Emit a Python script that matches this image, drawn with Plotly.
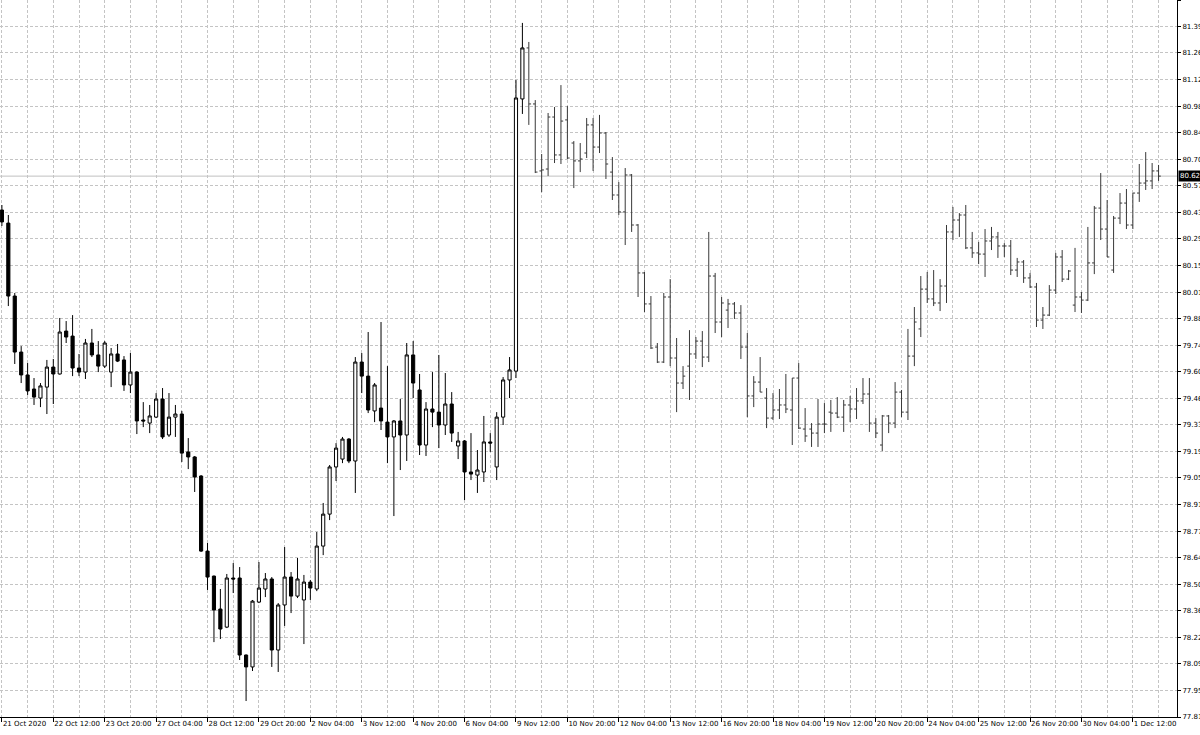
import plotly.graph_objects as go

# H4 bars, 21 Oct 2020 - 2 Dec 2020 (index = bar number)
opens = [80.444, 80.376, 79.997, 79.706, 79.587, 79.514, 79.467, 79.524, 79.628, 79.592,
         79.815, 79.789, 79.623, 79.602, 79.753, 79.691, 79.633, 79.602, 79.696, 79.665,
         79.535, 79.602, 79.353, 79.337, 79.368, 79.462, 79.275, 79.368, 79.384, 79.187,
         79.161, 79.062, 78.672, 78.542, 78.371, 78.277, 78.532, 78.532, 78.132, 78.070,
         78.407, 78.475, 78.527, 78.158, 78.392, 78.537, 78.438, 78.418, 78.511, 78.475,
         78.698, 78.864, 79.109, 79.150, 79.254, 79.140, 79.654, 79.581, 79.400, 79.415,
         79.342, 79.265, 79.348, 79.275, 79.691, 79.509, 79.223, 79.410, 79.394, 79.327,
         79.436, 79.218, 79.244, 79.083, 79.067, 79.083, 79.239, 79.109, 79.368, 79.561,
         79.607, 81.021, 81.286, 80.995, 80.647, 80.657, 80.927, 80.730, 80.912, 80.792,
         80.699, 80.740, 80.886, 80.771, 80.844, 80.641, 80.522, 80.434, 80.626, 80.366,
         80.117, 79.956, 79.732, 79.654, 79.992, 79.675, 79.545, 79.633, 79.696, 79.763,
         79.680, 80.101, 79.862, 79.924, 79.956, 79.909, 79.732, 79.478, 79.550, 79.467,
         79.363, 79.405, 79.431, 79.405, 79.571, 79.306, 79.306, 79.285, 79.332, 79.394,
         79.389, 79.368, 79.431, 79.410, 79.452, 79.488, 79.337, 79.223, 79.374, 79.337,
         79.498, 79.394, 79.685, 79.826, 80.033, 79.982, 79.961, 80.049, 80.330, 80.392,
         80.418, 80.247, 80.221, 80.215, 80.283, 80.304, 80.257, 80.257, 80.132, 80.174,
         80.091, 80.044, 79.872, 79.898, 80.028, 80.200, 80.085, 79.950, 79.992, 79.976,
         80.169, 80.454, 80.345, 80.132, 80.402, 80.480, 80.366, 80.532, 80.584, 80.595,
         80.647]

highs = [80.470, 80.418, 80.013, 79.737, 79.649, 79.571, 79.545, 79.665, 79.670, 79.883,
         79.867, 79.898, 79.696, 79.774, 79.826, 79.763, 79.763, 79.727, 79.748, 79.685,
         79.701, 79.607, 79.446, 79.431, 79.493, 79.519, 79.493, 79.431, 79.400, 79.259,
         79.166, 79.067, 78.714, 78.545, 78.475, 78.553, 78.610, 78.589, 78.135, 78.418,
         78.615, 78.558, 78.537, 78.402, 78.693, 78.563, 78.636, 78.548, 78.522, 78.771,
         78.922, 79.119, 79.233, 79.265, 79.259, 79.680, 79.701, 79.810, 79.545, 79.862,
         79.633, 79.353, 79.462, 79.753, 79.763, 79.592, 79.446, 79.602, 79.691, 79.597,
         79.498, 79.291, 79.249, 79.285, 79.197, 79.374, 79.285, 79.394, 79.576, 79.680,
         81.119, 81.416, 81.317, 81.015, 80.735, 80.948, 80.979, 81.093, 80.984, 80.802,
         80.792, 80.922, 80.922, 80.938, 80.849, 80.719, 80.589, 80.662, 80.631, 80.371,
         80.122, 79.997, 79.753, 80.013, 80.085, 79.779, 79.633, 79.820, 79.784, 79.815,
         80.330, 80.117, 79.992, 79.982, 79.966, 79.950, 79.805, 79.581, 79.680, 79.519,
         79.493, 79.514, 79.592, 79.571, 79.649, 79.415, 79.337, 79.462, 79.441, 79.457,
         79.472, 79.457, 79.478, 79.519, 79.571, 79.571, 79.363, 79.379, 79.379, 79.550,
         79.509, 79.826, 79.940, 80.101, 80.122, 80.132, 80.085, 80.366, 80.460, 80.428,
         80.470, 80.330, 80.278, 80.345, 80.356, 80.330, 80.272, 80.288, 80.195, 80.184,
         80.117, 80.065, 79.940, 80.054, 80.221, 80.236, 80.132, 80.247, 80.018, 80.356,
         80.465, 80.636, 80.496, 80.413, 80.532, 80.553, 80.532, 80.683, 80.745, 80.688,
         80.678]

lows = [80.361, 79.945, 79.644, 79.545, 79.483, 79.431, 79.420, 79.384, 79.436, 79.589,
        79.753, 79.581, 79.581, 79.566, 79.680, 79.602, 79.623, 79.524, 79.654, 79.504,
        79.493, 79.280, 79.316, 79.285, 79.363, 79.254, 79.265, 79.265, 79.135, 79.098,
        78.979, 78.667, 78.470, 78.199, 78.215, 78.272, 78.454, 78.106, 77.893, 78.049,
        78.402, 78.433, 78.070, 78.044, 78.283, 78.350, 78.428, 78.189, 78.418, 78.464,
        78.651, 78.833, 79.036, 79.129, 79.129, 78.974, 79.493, 79.389, 79.342, 79.301,
        79.129, 78.854, 79.093, 79.140, 79.467, 79.171, 79.166, 79.316, 79.207, 79.275,
        79.239, 79.150, 78.937, 79.041, 78.974, 79.031, 79.187, 79.041, 79.327, 79.467,
        79.571, 80.943, 80.886, 80.636, 80.537, 80.621, 80.688, 80.683, 80.709, 80.558,
        80.641, 80.714, 80.647, 80.740, 80.605, 80.496, 80.418, 80.262, 80.330, 79.992,
        79.914, 79.722, 79.649, 79.649, 79.633, 79.394, 79.514, 79.457, 79.670, 79.628,
        79.654, 79.805, 79.784, 79.831, 79.878, 79.670, 79.368, 79.420, 79.498, 79.311,
        79.353, 79.358, 79.389, 79.223, 79.306, 79.239, 79.213, 79.213, 79.285, 79.291,
        79.363, 79.291, 79.342, 79.358, 79.436, 79.291, 79.259, 79.192, 79.285, 79.311,
        79.368, 79.353, 79.633, 79.784, 79.961, 79.945, 79.919, 79.961, 80.288, 80.304,
        80.241, 80.195, 80.163, 80.096, 80.236, 80.195, 80.200, 80.106, 80.096, 80.065,
        80.039, 79.836, 79.826, 79.893, 80.008, 80.070, 80.080, 79.914, 79.909, 79.971,
        80.111, 80.288, 80.200, 80.117, 80.371, 80.345, 80.345, 80.486, 80.548, 80.553,
        80.595]

closes = [80.382, 79.997, 79.706, 79.587, 79.504, 79.472, 79.530, 79.628, 79.592, 79.810,
          79.784, 79.623, 79.602, 79.753, 79.691, 79.633, 79.753, 79.696, 79.659, 79.535,
          79.602, 79.348, 79.348, 79.374, 79.462, 79.265, 79.368, 79.384, 79.181, 79.161,
          79.057, 78.672, 78.537, 78.366, 78.267, 78.532, 78.527, 78.132, 78.070, 78.412,
          78.480, 78.527, 78.158, 78.392, 78.537, 78.438, 78.527, 78.511, 78.480, 78.698,
          78.864, 79.109, 79.207, 79.254, 79.140, 79.654, 79.581, 79.405, 79.535, 79.348,
          79.265, 79.348, 79.275, 79.691, 79.545, 79.223, 79.410, 79.394, 79.327, 79.436,
          79.285, 79.244, 79.083, 79.072, 79.093, 79.239, 79.233, 79.368, 79.561, 79.613,
          81.026, 81.286, 80.995, 80.641, 80.652, 80.927, 80.730, 80.906, 80.714, 80.699,
          80.709, 80.886, 80.771, 80.844, 80.683, 80.522, 80.434, 80.626, 80.366, 80.117,
          79.956, 79.727, 79.654, 79.992, 79.675, 79.545, 79.581, 79.696, 79.763, 79.680,
          80.101, 79.862, 79.961, 79.956, 79.909, 79.732, 79.478, 79.550, 79.498, 79.363,
          79.405, 79.431, 79.410, 79.571, 79.311, 79.270, 79.285, 79.332, 79.332, 79.389,
          79.368, 79.431, 79.410, 79.452, 79.488, 79.337, 79.285, 79.374, 79.337, 79.498,
          79.394, 79.685, 79.862, 80.033, 79.982, 79.961, 80.049, 80.330, 80.392, 80.418,
          80.247, 80.221, 80.215, 80.283, 80.304, 80.257, 80.257, 80.132, 80.174, 80.091,
          80.044, 79.872, 79.898, 80.028, 80.200, 80.085, 80.127, 79.992, 79.976, 80.169,
          80.454, 80.345, 80.200, 80.402, 80.480, 80.366, 80.532, 80.584, 80.595, 80.647,
          80.620]

candle_count = 82          # first bars drawn as candlesticks, the rest as OHLC bars
current_price = 80.620

x_tick_labels = ["21 Oct 2020", "22 Oct 12:00", "23 Oct 20:00", "27 Oct 04:00", "28 Oct 12:00",
                 "29 Oct 20:00", "2 Nov 04:00", "3 Nov 12:00", "4 Nov 20:00", "6 Nov 04:00",
                 "9 Nov 12:00", "10 Nov 20:00", "12 Nov 04:00", "13 Nov 12:00", "16 Nov 20:00",
                 "18 Nov 04:00", "19 Nov 12:00", "20 Nov 20:00", "24 Nov 04:00", "25 Nov 12:00",
                 "26 Nov 20:00", "30 Nov 04:00", "1 Dec 12:00"]
x_label_step = 8
x_grid_step = 4

y_tick_labels = ["81.535", "81.395", "81.260", "81.120", "80.980", "80.845", "80.705",
                 "80.570", "80.430", "80.295", "80.155", "80.015", "79.880", "79.740",
                 "79.605", "79.465", "79.330", "79.190", "79.055", "78.915", "78.775",
                 "78.640", "78.500", "78.365", "78.225", "78.090", "77.950", "77.810"]

bars = list(range(len(opens)))
c = candle_count

FONT = "'DejaVu Sans', Tahoma, sans-serif"
FS = 7
GRID = "#c4c4c4"

fig = go.Figure()
fig.add_trace(go.Candlestick(
    x=bars[:c], open=opens[:c], high=highs[:c], low=lows[:c], close=closes[:c],
    increasing=dict(line=dict(color="black", width=1), fillcolor="white"),
    decreasing=dict(line=dict(color="black", width=1), fillcolor="black"),
    whiskerwidth=0, hoverinfo="skip", showlegend=False))
fig.add_trace(go.Ohlc(
    x=bars[c:], open=opens[c:], high=highs[c:], low=lows[c:], close=closes[c:],
    increasing=dict(line=dict(color="#383838", width=1)),
    decreasing=dict(line=dict(color="#383838", width=1)),
    tickwidth=0.35, hoverinfo="skip", showlegend=False))

fig.add_hline(y=current_price, line=dict(color="#c0c0c0", width=1), layer="below")
fig.add_annotation(x=1, xref="paper", y=current_price, yref="y", xanchor="left", yanchor="middle",
                   text=f"{current_price:.3f}", showarrow=False, bgcolor="black",
                   font=dict(color="white", size=FS, family=FONT), borderpad=1, xshift=1)

n = len(opens)
fig.update_layout(
    width=1200, height=735,
    margin=dict(l=0, r=23, t=0, b=18, pad=0),
    paper_bgcolor="white", plot_bgcolor="white",
    font=dict(family=FONT, size=FS, color="black"),
    showlegend=False,
    xaxis=dict(
        type="linear", range=[-0.296, 182.87],
        tickvals=[i * x_label_step for i in range(len(x_tick_labels))],
        ticktext=x_tick_labels, tickangle=0,
        ticks="outside", ticklen=4, tickcolor="black", ticklabelposition="outside right",
        showgrid=True, gridcolor=GRID, griddash="3px,2px", gridwidth=1,
        minor=dict(tickvals=list(range(0, n, x_grid_step)), showgrid=True,
                   gridcolor=GRID, griddash="3px,2px", gridwidth=1, ticks=""),
        showline=True, linecolor="black", linewidth=1, zeroline=False,
        rangeslider=dict(visible=False), fixedrange=True, automargin=False,
        tickfont=dict(size=FS, family=FONT, color="black")),
    yaxis=dict(
        side="right", range=[77.81, 81.535],
        tickvals=[float(v) for v in y_tick_labels], ticktext=y_tick_labels, tickangle=0,
        ticks="outside", ticklen=3, tickcolor="black",
        showgrid=True, gridcolor=GRID, griddash="3px,2px", gridwidth=1,
        showline=True, linecolor="black", linewidth=1, zeroline=False,
        fixedrange=True, automargin=False,
        tickfont=dict(size=FS, family=FONT, color="black")),
)

fig.write_html("out.html", config={"displayModeBar": False},
               post_script="document.body.style.margin='0';document.body.style.padding='0';")
